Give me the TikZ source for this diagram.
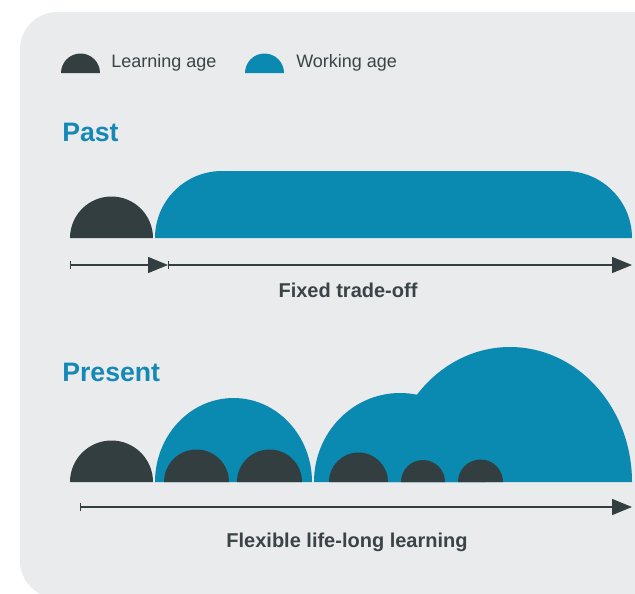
\documentclass[tikz,border=0pt]{standalone}
\usepackage{fontspec}
\setmainfont{Liberation Sans}
\usepackage{tikz}
\usetikzlibrary{arrows.meta}
\definecolor{PanelGray}{HTML}{EAEBED}
\definecolor{LearnDark}{HTML}{323E3F}
\definecolor{WorkBlue}{HTML}{0A89B1}
\definecolor{HeadBlue}{HTML}{1589B5}
\definecolor{TextDark}{HTML}{3A4446}

\begin{document}
\begin{tikzpicture}[x=0.75pt,y=-0.75pt,
          every node/.style={inner sep=0pt,text=TextDark},
          learn/.style={fill=LearnDark},
          work/.style={fill=WorkBlue},
          legend/.style={anchor=west,font=\fontsize{13.5}{16}\selectfont},
          head/.style={anchor=base west,text=HeadBlue,font=\fontsize{20}{24}\selectfont\bfseries},
          caption/.style={anchor=base,font=\fontsize{15}{18}\selectfont\bfseries},
          ar/.style={{Bar[width=6pt]}-{Triangle[length=15pt,width=12pt]},draw=LearnDark,line width=1pt}]
        \useasboundingbox (0,0) rectangle (635,593);
        \fill[white] (0,0) rectangle (635,593);
        \begin{scope}
          \clip (0,0) rectangle (635,593);
          \fill[PanelGray,rounded corners=28] (20,12) rectangle (680,598);
        \end{scope}
        \fill[learn] (61,73) arc[start angle=180,end angle=360,radius=19.5];
        \node[legend] (lrn) at (111,63) {Learning age};
        \fill[work] (245,73) arc[start angle=180,end angle=360,radius=19.5];
        \node[legend] (wrk) at (296,63) {Working age};
        \node[head] (past) at (62,141) {Past};
        \fill[learn] (70,238) arc[start angle=180,end angle=360,radius=41.5];
        \fill[work] (155,238) arc[start angle=180,end angle=270,radius=67]
          -- (565,171) arc[start angle=270,end angle=360,radius=67] -- cycle;
        \coordinate (pa) at (70,265);
        \coordinate (pb) at (168,265);
        \coordinate (pc) at (632,265);
        \draw[ar] (pa) -- (pb);
        \draw[ar] (pb) -- (pc);
        \node[caption] (fixed) at (348,297) {Fixed trade-off};
        \node[head] (present) at (62,381) {Present};
        \fill[learn] (70,482) arc[start angle=180,end angle=360,radius=41.5];
        \fill[work] (155,482) arc[start angle=180,end angle=360,x radius=78.5,y radius=84];
        \fill[learn] (164,482) arc[start angle=180,end angle=360,radius=32.5];
        \fill[learn] (237,482) arc[start angle=180,end angle=360,radius=32.5];
        \fill[work] (314,482) arc[start angle=180,end angle=360,x radius=86,y radius=89];
        \fill[work] (388,482) arc[start angle=180,end angle=360,x radius=122,y radius=135];
        \fill[learn] (329,482) arc[start angle=180,end angle=360,radius=29.5];
        \fill[learn] (401,482) arc[start angle=180,end angle=360,radius=22];
        \fill[learn] (458,482) arc[start angle=180,end angle=360,radius=22.5];
        \coordinate (qa) at (80,507);
        \coordinate (qb) at (632,507);
        \draw[ar] (qa) -- (qb);
        \node[caption] (flex) at (347,547) {Flexible life-long learning};
      \end{tikzpicture}
\end{document}
